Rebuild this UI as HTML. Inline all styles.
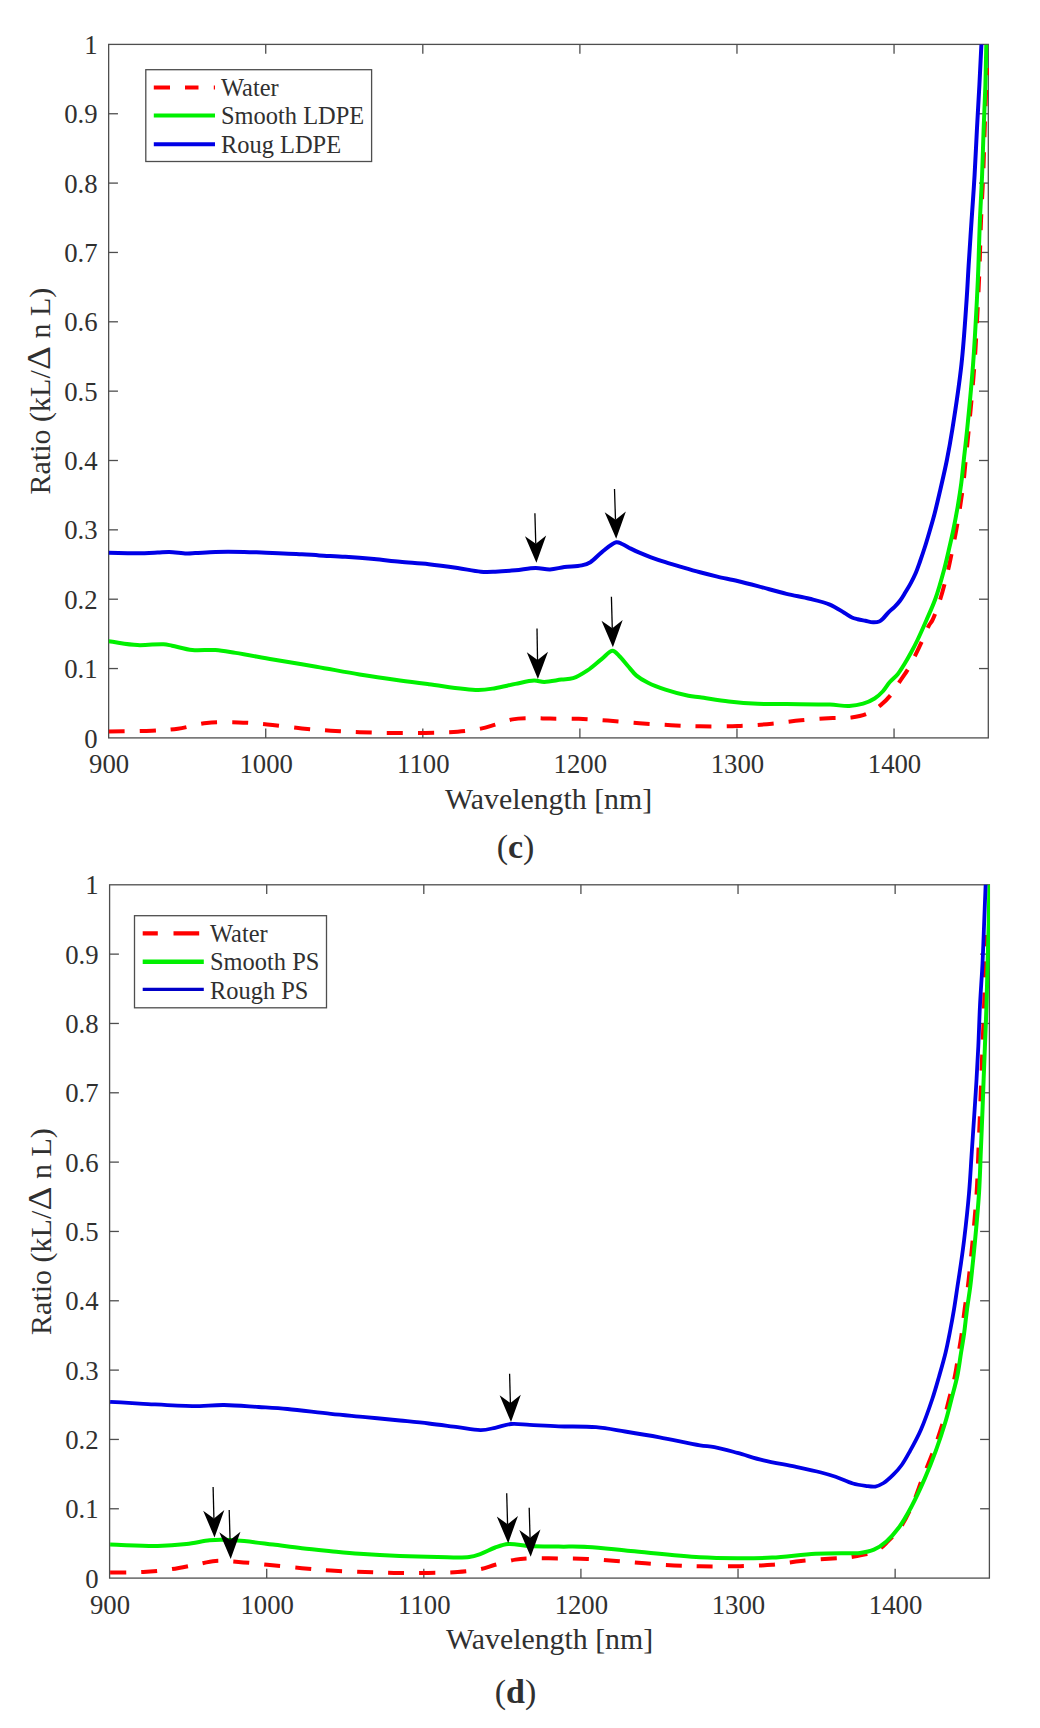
<!DOCTYPE html>
<html><head><meta charset="utf-8"><style>
html,body{margin:0;padding:0;background:#fff;}
svg{display:block;}
text{font-family:"Liberation Serif", serif;fill:#303030;}
</style></head><body>
<svg width="1040" height="1728" viewBox="0 0 1040 1728">
<rect width="1040" height="1728" fill="#fff"/>
<defs><clipPath id="cc"><rect x="108.65" y="44.40" width="880.25" height="693.50"/></clipPath>
<clipPath id="cd"><rect x="109.60" y="884.80" width="880.40" height="693.30"/></clipPath></defs>
<rect x="108.65" y="44.40" width="879.65" height="693.50" fill="none" stroke="#4e4e4e" stroke-width="1.3"/>
<text transform="translate(109.10,773.40) scale(0.9550,1)" font-size="28" text-anchor="middle">900</text>
<line x1="265.73" y1="737.90" x2="265.73" y2="728.60" stroke="#4e4e4e" stroke-width="1.3"/>
<line x1="265.73" y1="44.40" x2="265.73" y2="53.70" stroke="#4e4e4e" stroke-width="1.3"/>
<text transform="translate(266.18,773.40) scale(0.9550,1)" font-size="28" text-anchor="middle">1000</text>
<line x1="422.81" y1="737.90" x2="422.81" y2="728.60" stroke="#4e4e4e" stroke-width="1.3"/>
<line x1="422.81" y1="44.40" x2="422.81" y2="53.70" stroke="#4e4e4e" stroke-width="1.3"/>
<text transform="translate(423.26,773.40) scale(0.9550,1)" font-size="28" text-anchor="middle">1100</text>
<line x1="579.89" y1="737.90" x2="579.89" y2="728.60" stroke="#4e4e4e" stroke-width="1.3"/>
<line x1="579.89" y1="44.40" x2="579.89" y2="53.70" stroke="#4e4e4e" stroke-width="1.3"/>
<text transform="translate(580.34,773.40) scale(0.9550,1)" font-size="28" text-anchor="middle">1200</text>
<line x1="736.97" y1="737.90" x2="736.97" y2="728.60" stroke="#4e4e4e" stroke-width="1.3"/>
<line x1="736.97" y1="44.40" x2="736.97" y2="53.70" stroke="#4e4e4e" stroke-width="1.3"/>
<text transform="translate(737.42,773.40) scale(0.9550,1)" font-size="28" text-anchor="middle">1300</text>
<line x1="894.05" y1="737.90" x2="894.05" y2="728.60" stroke="#4e4e4e" stroke-width="1.3"/>
<line x1="894.05" y1="44.40" x2="894.05" y2="53.70" stroke="#4e4e4e" stroke-width="1.3"/>
<text transform="translate(894.50,773.40) scale(0.9550,1)" font-size="28" text-anchor="middle">1400</text>
<text transform="translate(97.65,747.50) scale(0.9550,1)" font-size="28" text-anchor="end">0</text>
<line x1="108.65" y1="668.55" x2="117.95" y2="668.55" stroke="#4e4e4e" stroke-width="1.3"/>
<line x1="988.30" y1="668.55" x2="979.00" y2="668.55" stroke="#4e4e4e" stroke-width="1.3"/>
<text transform="translate(97.65,678.15) scale(0.9550,1)" font-size="28" text-anchor="end">0.1</text>
<line x1="108.65" y1="599.20" x2="117.95" y2="599.20" stroke="#4e4e4e" stroke-width="1.3"/>
<line x1="988.30" y1="599.20" x2="979.00" y2="599.20" stroke="#4e4e4e" stroke-width="1.3"/>
<text transform="translate(97.65,608.80) scale(0.9550,1)" font-size="28" text-anchor="end">0.2</text>
<line x1="108.65" y1="529.85" x2="117.95" y2="529.85" stroke="#4e4e4e" stroke-width="1.3"/>
<line x1="988.30" y1="529.85" x2="979.00" y2="529.85" stroke="#4e4e4e" stroke-width="1.3"/>
<text transform="translate(97.65,539.45) scale(0.9550,1)" font-size="28" text-anchor="end">0.3</text>
<line x1="108.65" y1="460.50" x2="117.95" y2="460.50" stroke="#4e4e4e" stroke-width="1.3"/>
<line x1="988.30" y1="460.50" x2="979.00" y2="460.50" stroke="#4e4e4e" stroke-width="1.3"/>
<text transform="translate(97.65,470.10) scale(0.9550,1)" font-size="28" text-anchor="end">0.4</text>
<line x1="108.65" y1="391.15" x2="117.95" y2="391.15" stroke="#4e4e4e" stroke-width="1.3"/>
<line x1="988.30" y1="391.15" x2="979.00" y2="391.15" stroke="#4e4e4e" stroke-width="1.3"/>
<text transform="translate(97.65,400.75) scale(0.9550,1)" font-size="28" text-anchor="end">0.5</text>
<line x1="108.65" y1="321.80" x2="117.95" y2="321.80" stroke="#4e4e4e" stroke-width="1.3"/>
<line x1="988.30" y1="321.80" x2="979.00" y2="321.80" stroke="#4e4e4e" stroke-width="1.3"/>
<text transform="translate(97.65,331.40) scale(0.9550,1)" font-size="28" text-anchor="end">0.6</text>
<line x1="108.65" y1="252.45" x2="117.95" y2="252.45" stroke="#4e4e4e" stroke-width="1.3"/>
<line x1="988.30" y1="252.45" x2="979.00" y2="252.45" stroke="#4e4e4e" stroke-width="1.3"/>
<text transform="translate(97.65,262.05) scale(0.9550,1)" font-size="28" text-anchor="end">0.7</text>
<line x1="108.65" y1="183.10" x2="117.95" y2="183.10" stroke="#4e4e4e" stroke-width="1.3"/>
<line x1="988.30" y1="183.10" x2="979.00" y2="183.10" stroke="#4e4e4e" stroke-width="1.3"/>
<text transform="translate(97.65,192.70) scale(0.9550,1)" font-size="28" text-anchor="end">0.8</text>
<line x1="108.65" y1="113.75" x2="117.95" y2="113.75" stroke="#4e4e4e" stroke-width="1.3"/>
<line x1="988.30" y1="113.75" x2="979.00" y2="113.75" stroke="#4e4e4e" stroke-width="1.3"/>
<text transform="translate(97.65,123.35) scale(0.9550,1)" font-size="28" text-anchor="end">0.9</text>
<text transform="translate(97.65,54.00) scale(0.9550,1)" font-size="28" text-anchor="end">1</text>
<path d="M108.65,731.60 C123.07,731.30 139.32,731.31 151.90,730.70 C161.67,730.22 169.05,729.91 177.90,728.70 C187.29,727.41 196.81,724.06 206.70,723.00 C216.99,721.89 228.17,722.14 238.50,722.40 C248.34,722.65 257.27,723.47 267.30,724.40 C278.32,725.42 290.88,727.32 301.90,728.40 C311.96,729.38 321.17,730.07 330.80,730.70 C340.40,731.33 349.19,731.83 359.60,732.20 C371.93,732.64 385.34,733.01 400.00,733.00 C417.52,732.99 442.82,732.98 457.70,731.80 C467.16,731.05 474.05,730.00 480.80,728.60 C486.21,727.48 490.19,726.05 495.20,724.60 C500.71,723.01 506.44,720.47 512.50,719.40 C518.91,718.26 526.23,718.32 532.70,718.20 C538.69,718.09 543.50,718.50 550.00,718.60 C558.38,718.73 569.20,718.47 578.80,718.80 C588.43,719.13 597.85,719.89 607.70,720.60 C618.03,721.34 628.83,722.43 639.40,723.20 C649.96,723.97 660.77,724.68 671.10,725.20 C680.95,725.70 689.74,726.15 700.00,726.30 C711.69,726.48 725.26,726.46 737.50,726.00 C749.27,725.56 761.10,724.71 772.10,723.70 C782.18,722.77 791.13,721.24 801.00,720.30 C811.31,719.32 823.50,718.46 832.70,718.00 C839.78,717.65 845.62,718.26 851.50,717.50 C856.82,716.82 861.75,715.96 866.50,714.00 C871.40,711.98 876.27,708.67 880.40,705.40 C884.32,702.30 887.61,698.89 890.80,695.00 C894.18,690.87 897.03,685.66 900.00,681.20 C902.79,677.01 905.56,673.31 908.10,669.00 C910.78,664.47 913.25,659.33 915.60,654.60 C917.84,650.10 919.78,645.92 921.90,641.30 C924.18,636.34 926.72,629.66 928.80,625.80 C930.12,623.34 931.19,622.64 932.50,620.00 C934.90,615.18 938.04,606.23 940.50,598.50 C943.29,589.73 945.99,578.68 948.07,570.00 C949.80,562.77 950.96,556.67 952.33,550.00 C953.70,543.34 955.04,536.98 956.30,530.00 C957.68,522.38 959.04,513.92 960.24,506.00 C961.41,498.26 962.52,490.68 963.44,483.00 C964.35,475.34 964.89,468.36 965.72,460.00 C966.71,449.99 967.81,439.77 969.00,427.00 C970.65,409.37 972.99,385.09 974.50,364.00 C976.03,342.76 977.20,317.99 978.10,300.00 C978.75,286.89 979.12,278.19 979.57,266.00 C980.11,251.82 980.43,235.25 981.04,220.00 C981.64,204.92 982.60,190.00 983.20,175.00 C983.81,160.00 984.13,145.00 984.67,130.00 C985.21,115.00 985.68,96.41 986.43,85.00 C986.89,77.97 987.48,73.67 988.00,68.00" fill="none" stroke="#ff0000" stroke-width="4" stroke-linejoin="round" stroke-dasharray="16 15.05" clip-path="url(#cc)"/>
<path d="M108.65,641.30 C118.27,642.57 128.12,644.65 137.50,645.10 C146.37,645.53 157.19,643.76 163.50,644.20 C167.16,644.45 168.64,645.03 172.10,645.70 C177.42,646.73 185.30,649.26 192.30,650.00 C199.70,650.78 207.98,649.47 215.40,650.00 C222.38,650.50 227.85,651.66 235.60,652.90 C246.17,654.59 260.07,657.28 273.00,659.50 C286.90,661.88 301.88,664.20 316.30,666.70 C330.74,669.20 345.40,672.17 359.60,674.50 C373.28,676.75 387.66,678.79 400.00,680.50 C410.40,681.94 417.92,682.86 428.80,684.20 C442.99,685.95 465.70,689.92 477.90,690.00 C485.13,690.05 489.24,689.14 495.20,688.20 C501.70,687.17 508.79,685.20 515.40,683.90 C521.74,682.65 528.81,680.61 534.10,680.50 C537.97,680.42 540.38,681.89 544.20,681.90 C549.19,681.91 556.31,680.26 561.50,679.60 C565.75,679.06 569.15,679.46 573.10,678.20 C577.78,676.71 582.84,673.50 587.50,670.40 C592.45,667.10 597.43,662.27 601.90,658.80 C605.70,655.85 609.48,650.76 612.60,650.80 C615.08,650.83 616.95,653.86 619.20,656.00 C622.02,658.69 625.00,662.71 627.90,666.00 C630.76,669.24 633.20,672.82 636.50,675.60 C639.88,678.45 643.66,680.60 648.00,682.80 C653.10,685.38 659.13,687.63 665.40,689.70 C672.47,692.03 682.00,694.54 688.40,695.80 C692.89,696.68 695.27,696.65 700.00,697.30 C707.46,698.33 719.17,700.42 728.80,701.50 C738.41,702.58 748.07,703.37 757.70,703.80 C767.30,704.23 775.92,703.98 786.50,704.10 C799.47,704.24 818.23,704.12 829.80,704.60 C837.55,704.92 843.29,706.27 849.20,706.00 C854.23,705.77 858.77,705.01 863.10,703.70 C867.20,702.46 871.24,700.65 874.60,698.50 C877.70,696.52 880.24,694.14 882.70,691.50 C885.25,688.76 887.10,685.19 889.60,682.30 C892.10,679.42 895.24,677.20 897.70,674.20 C900.26,671.06 902.38,667.39 904.60,663.80 C906.89,660.10 909.07,656.22 911.20,652.30 C913.37,648.29 915.28,644.63 917.50,640.00 C920.30,634.17 923.54,626.81 926.50,620.00 C929.55,612.98 932.73,606.25 935.50,598.50 C938.63,589.75 941.66,578.69 944.00,570.00 C945.94,562.77 947.25,556.67 948.80,550.00 C950.35,543.34 951.86,536.98 953.30,530.00 C954.87,522.38 956.45,513.93 957.80,506.00 C959.11,498.26 960.30,490.68 961.30,483.00 C962.30,475.34 962.89,468.36 963.80,460.00 C964.89,449.99 966.13,439.77 967.40,427.00 C969.16,409.37 971.52,385.09 973.10,364.00 C974.69,342.76 975.97,317.99 976.90,300.00 C977.58,286.89 977.93,278.19 978.40,266.00 C978.94,251.82 979.28,235.25 979.90,220.00 C980.51,204.92 981.48,190.00 982.10,175.00 C982.72,160.00 983.05,145.00 983.60,130.00 C984.15,115.00 984.95,99.61 985.40,85.00 C985.83,71.15 986.00,58.00 986.30,44.50" fill="none" stroke="#00f000" stroke-width="4" stroke-linejoin="round" clip-path="url(#cc)"/>
<path d="M108.65,552.80 C118.10,552.93 128.29,553.29 137.00,553.20 C144.44,553.13 151.81,552.75 157.70,552.50 C162.09,552.31 164.98,551.83 169.20,551.90 C174.38,551.99 181.71,553.28 186.50,553.40 C189.89,553.49 191.70,553.26 195.20,553.10 C200.54,552.85 208.07,552.12 215.40,551.90 C224.15,551.64 235.82,551.75 244.20,551.90 C250.70,552.01 254.53,552.23 261.50,552.50 C272.15,552.91 291.25,553.61 301.90,554.20 C308.87,554.59 312.85,555.01 319.20,555.40 C326.99,555.88 336.32,556.21 345.20,556.80 C354.56,557.43 364.65,558.24 374.00,559.10 C382.89,559.92 391.11,560.97 400.00,561.80 C409.35,562.67 419.20,563.17 428.80,564.20 C438.44,565.23 448.61,566.68 457.70,568.00 C465.84,569.19 473.99,571.16 480.80,571.70 C486.15,572.13 490.00,571.88 495.20,571.70 C501.37,571.49 508.67,570.92 515.40,570.30 C522.14,569.68 529.43,568.05 535.60,568.00 C540.80,567.96 545.21,569.55 550.00,569.40 C554.81,569.25 559.37,567.75 564.40,567.10 C569.89,566.39 576.97,566.48 581.70,565.40 C585.15,564.61 587.46,563.95 590.40,562.20 C594.17,559.96 597.74,555.32 601.90,552.10 C606.33,548.67 612.46,542.91 616.30,542.30 C618.56,541.94 620.02,543.15 622.10,544.00 C624.76,545.08 627.89,547.14 630.80,548.60 C633.66,550.04 636.29,551.35 639.40,552.70 C642.95,554.25 646.90,555.79 651.00,557.30 C655.52,558.96 660.36,560.59 665.40,562.20 C670.89,563.96 676.93,565.71 682.70,567.40 C688.46,569.08 694.22,570.76 700.00,572.30 C705.75,573.83 711.30,575.20 717.30,576.60 C723.76,578.11 730.78,579.42 737.50,581.00 C744.25,582.59 750.38,584.18 757.70,586.10 C766.46,588.39 777.40,591.70 786.50,593.90 C794.60,595.85 802.19,596.95 809.60,598.80 C816.59,600.54 823.77,602.08 829.80,604.60 C835.15,606.84 840.15,610.32 844.20,612.70 C847.22,614.48 849.53,616.40 852.00,617.50 C853.99,618.39 855.65,618.68 857.70,619.20 C860.06,619.80 862.83,620.28 865.40,620.80 C867.97,621.32 870.68,622.22 873.10,622.30 C875.25,622.37 877.47,622.22 879.20,621.50 C880.74,620.86 881.76,619.76 883.10,618.50 C884.83,616.87 886.58,614.24 888.50,612.30 C890.41,610.37 892.68,608.82 894.60,606.90 C896.52,604.98 898.29,603.08 900.00,600.80 C901.91,598.27 903.63,595.21 905.40,592.30 C907.23,589.31 909.12,586.21 910.80,583.10 C912.45,580.04 913.95,577.16 915.40,573.80 C917.03,570.02 918.46,565.85 920.00,561.50 C921.72,556.65 923.57,551.14 925.20,546.00 C926.80,540.97 928.20,536.16 929.70,531.00 C931.30,525.52 932.89,520.16 934.50,514.00 C936.39,506.75 938.26,498.61 940.20,490.20 C942.38,480.74 944.87,470.15 946.90,460.00 C948.94,449.76 950.46,441.25 952.40,429.00 C955.21,411.32 959.13,385.62 961.50,364.00 C963.85,342.62 965.35,317.99 966.60,300.00 C967.51,286.89 967.84,278.19 968.60,266.00 C969.48,251.82 970.59,235.25 971.60,220.00 C972.59,204.92 973.72,190.00 974.60,175.00 C975.48,160.00 976.10,145.00 976.90,130.00 C977.70,115.00 978.63,99.61 979.40,85.00 C980.13,71.15 981.13,48.17 981.40,44.50 C981.44,43.92 981.47,43.83 981.50,43.50" fill="none" stroke="#0000e6" stroke-width="4" stroke-linejoin="round" clip-path="url(#cc)"/>
<line x1="534.90" y1="513.20" x2="535.77" y2="543.81" stroke="#000" stroke-width="1.3"/><path d="M536.40,562.80 L524.99,536.13 L535.83,543.81 L546.18,535.49 Z" fill="#000"/>
<line x1="614.50" y1="489.10" x2="615.48" y2="519.81" stroke="#000" stroke-width="1.3"/><path d="M616.20,538.80 L604.68,512.18 L615.55,519.81 L625.87,511.45 Z" fill="#000"/>
<line x1="537.00" y1="628.50" x2="537.53" y2="660.00" stroke="#000" stroke-width="1.3"/><path d="M537.90,679.00 L526.82,652.19 L537.56,660.00 L548.02,651.82 Z" fill="#000"/>
<line x1="611.40" y1="596.80" x2="612.28" y2="628.31" stroke="#000" stroke-width="1.3"/><path d="M612.90,647.30 L601.50,620.63 L612.34,628.31 L622.69,620.00 Z" fill="#000"/>
<rect x="145.8" y="69.7" width="225.8" height="91.8" fill="#fff" stroke="#4e4e4e" stroke-width="1.3"/>
<line x1="153.8" y1="87.5" x2="215" y2="87.5" stroke="#ff0000" stroke-width="4.2" stroke-dasharray="16.2 15 13.5 15.3 1.2 100"/>
<line x1="153.8" y1="115.4" x2="215" y2="115.4" stroke="#00f000" stroke-width="4"/>
<line x1="153.8" y1="144.2" x2="215" y2="144.2" stroke="#0000e6" stroke-width="4"/>
<text transform="translate(221.00,96.20) scale(1.0100,1)" font-size="24.2" text-anchor="start">Water</text>
<text transform="translate(221.00,124.40) scale(1.0100,1)" font-size="24.2" text-anchor="start">Smooth LDPE</text>
<text transform="translate(221.00,152.80) scale(1.0100,1)" font-size="24.2" text-anchor="start">Roug LDPE</text>
<text transform="translate(445.00,808.80) scale(0.9950,1)" font-size="30" text-anchor="start">Wavelength [nm]</text>
<g transform="translate(49.80,0.00) rotate(-90)"><text x="-494.40" y="0" font-size="30">Ratio (kL/</text><text transform="translate(-370.10,0) scale(1.13,1)" font-size="33">&#916;</text><text x="-338.60" y="0" font-size="30">n L)</text></g>
<text x="515.5" y="858" text-anchor="middle" font-size="34">(<tspan font-weight="bold">c</tspan>)</text>
<rect x="109.60" y="884.80" width="879.80" height="693.30" fill="none" stroke="#4e4e4e" stroke-width="1.3"/>
<text transform="translate(110.05,1613.60) scale(0.9550,1)" font-size="28" text-anchor="middle">900</text>
<line x1="266.71" y1="1578.10" x2="266.71" y2="1568.80" stroke="#4e4e4e" stroke-width="1.3"/>
<line x1="266.71" y1="884.80" x2="266.71" y2="894.10" stroke="#4e4e4e" stroke-width="1.3"/>
<text transform="translate(267.16,1613.60) scale(0.9550,1)" font-size="28" text-anchor="middle">1000</text>
<line x1="423.81" y1="1578.10" x2="423.81" y2="1568.80" stroke="#4e4e4e" stroke-width="1.3"/>
<line x1="423.81" y1="884.80" x2="423.81" y2="894.10" stroke="#4e4e4e" stroke-width="1.3"/>
<text transform="translate(424.26,1613.60) scale(0.9550,1)" font-size="28" text-anchor="middle">1100</text>
<line x1="580.92" y1="1578.10" x2="580.92" y2="1568.80" stroke="#4e4e4e" stroke-width="1.3"/>
<line x1="580.92" y1="884.80" x2="580.92" y2="894.10" stroke="#4e4e4e" stroke-width="1.3"/>
<text transform="translate(581.37,1613.60) scale(0.9550,1)" font-size="28" text-anchor="middle">1200</text>
<line x1="738.03" y1="1578.10" x2="738.03" y2="1568.80" stroke="#4e4e4e" stroke-width="1.3"/>
<line x1="738.03" y1="884.80" x2="738.03" y2="894.10" stroke="#4e4e4e" stroke-width="1.3"/>
<text transform="translate(738.48,1613.60) scale(0.9550,1)" font-size="28" text-anchor="middle">1300</text>
<line x1="895.14" y1="1578.10" x2="895.14" y2="1568.80" stroke="#4e4e4e" stroke-width="1.3"/>
<line x1="895.14" y1="884.80" x2="895.14" y2="894.10" stroke="#4e4e4e" stroke-width="1.3"/>
<text transform="translate(895.59,1613.60) scale(0.9550,1)" font-size="28" text-anchor="middle">1400</text>
<text transform="translate(98.60,1587.70) scale(0.9550,1)" font-size="28" text-anchor="end">0</text>
<line x1="109.60" y1="1508.77" x2="118.90" y2="1508.77" stroke="#4e4e4e" stroke-width="1.3"/>
<line x1="989.40" y1="1508.77" x2="980.10" y2="1508.77" stroke="#4e4e4e" stroke-width="1.3"/>
<text transform="translate(98.60,1518.37) scale(0.9550,1)" font-size="28" text-anchor="end">0.1</text>
<line x1="109.60" y1="1439.44" x2="118.90" y2="1439.44" stroke="#4e4e4e" stroke-width="1.3"/>
<line x1="989.40" y1="1439.44" x2="980.10" y2="1439.44" stroke="#4e4e4e" stroke-width="1.3"/>
<text transform="translate(98.60,1449.04) scale(0.9550,1)" font-size="28" text-anchor="end">0.2</text>
<line x1="109.60" y1="1370.11" x2="118.90" y2="1370.11" stroke="#4e4e4e" stroke-width="1.3"/>
<line x1="989.40" y1="1370.11" x2="980.10" y2="1370.11" stroke="#4e4e4e" stroke-width="1.3"/>
<text transform="translate(98.60,1379.71) scale(0.9550,1)" font-size="28" text-anchor="end">0.3</text>
<line x1="109.60" y1="1300.78" x2="118.90" y2="1300.78" stroke="#4e4e4e" stroke-width="1.3"/>
<line x1="989.40" y1="1300.78" x2="980.10" y2="1300.78" stroke="#4e4e4e" stroke-width="1.3"/>
<text transform="translate(98.60,1310.38) scale(0.9550,1)" font-size="28" text-anchor="end">0.4</text>
<line x1="109.60" y1="1231.45" x2="118.90" y2="1231.45" stroke="#4e4e4e" stroke-width="1.3"/>
<line x1="989.40" y1="1231.45" x2="980.10" y2="1231.45" stroke="#4e4e4e" stroke-width="1.3"/>
<text transform="translate(98.60,1241.05) scale(0.9550,1)" font-size="28" text-anchor="end">0.5</text>
<line x1="109.60" y1="1162.12" x2="118.90" y2="1162.12" stroke="#4e4e4e" stroke-width="1.3"/>
<line x1="989.40" y1="1162.12" x2="980.10" y2="1162.12" stroke="#4e4e4e" stroke-width="1.3"/>
<text transform="translate(98.60,1171.72) scale(0.9550,1)" font-size="28" text-anchor="end">0.6</text>
<line x1="109.60" y1="1092.79" x2="118.90" y2="1092.79" stroke="#4e4e4e" stroke-width="1.3"/>
<line x1="989.40" y1="1092.79" x2="980.10" y2="1092.79" stroke="#4e4e4e" stroke-width="1.3"/>
<text transform="translate(98.60,1102.39) scale(0.9550,1)" font-size="28" text-anchor="end">0.7</text>
<line x1="109.60" y1="1023.46" x2="118.90" y2="1023.46" stroke="#4e4e4e" stroke-width="1.3"/>
<line x1="989.40" y1="1023.46" x2="980.10" y2="1023.46" stroke="#4e4e4e" stroke-width="1.3"/>
<text transform="translate(98.60,1033.06) scale(0.9550,1)" font-size="28" text-anchor="end">0.8</text>
<line x1="109.60" y1="954.13" x2="118.90" y2="954.13" stroke="#4e4e4e" stroke-width="1.3"/>
<line x1="989.40" y1="954.13" x2="980.10" y2="954.13" stroke="#4e4e4e" stroke-width="1.3"/>
<text transform="translate(98.60,963.73) scale(0.9550,1)" font-size="28" text-anchor="end">0.9</text>
<text transform="translate(98.60,894.40) scale(0.9550,1)" font-size="28" text-anchor="end">1</text>
<path d="M110.10,1572.60 C121.17,1572.40 132.64,1572.63 143.30,1572.00 C153.25,1571.41 163.05,1570.40 172.10,1569.10 C180.25,1567.93 187.76,1566.19 195.20,1564.80 C202.16,1563.50 208.41,1561.51 215.40,1561.00 C222.81,1560.45 230.39,1561.33 238.50,1561.90 C247.58,1562.53 257.26,1563.80 267.30,1564.80 C278.30,1565.89 290.88,1567.20 301.90,1568.20 C311.96,1569.11 320.19,1569.95 330.80,1570.60 C343.75,1571.39 361.42,1571.88 374.00,1572.30 C383.76,1572.62 389.63,1572.95 400.00,1573.00 C415.45,1573.07 442.82,1573.06 457.70,1572.00 C467.15,1571.33 474.06,1570.52 480.80,1569.10 C486.22,1567.96 489.98,1566.25 495.20,1564.80 C501.35,1563.09 509.19,1560.65 515.40,1559.60 C520.57,1558.73 524.17,1558.63 529.80,1558.40 C537.75,1558.07 548.99,1558.30 558.60,1558.40 C568.23,1558.50 577.88,1558.57 587.50,1559.00 C597.11,1559.43 606.69,1560.28 616.30,1561.00 C625.93,1561.72 635.57,1562.57 645.20,1563.30 C654.81,1564.03 664.64,1564.90 674.00,1565.40 C682.88,1565.88 690.54,1566.15 700.00,1566.30 C711.36,1566.48 725.25,1566.46 737.50,1566.20 C749.27,1565.95 761.11,1565.74 772.10,1564.80 C782.19,1563.93 791.13,1562.05 801.00,1561.00 C811.31,1559.90 823.72,1559.05 832.70,1558.40 C839.33,1557.92 844.54,1557.99 850.00,1557.30 C854.99,1556.67 859.70,1555.62 864.20,1554.60 C868.33,1553.67 872.27,1553.45 876.00,1551.50 C880.22,1549.30 884.01,1545.18 887.90,1541.40 C892.16,1537.26 896.63,1532.86 900.40,1527.50 C904.64,1521.48 908.15,1514.26 911.60,1506.70 C915.48,1498.22 918.59,1488.15 922.20,1478.90 C925.82,1469.62 929.85,1460.52 933.30,1451.10 C936.79,1441.56 940.26,1431.17 943.00,1422.00 C945.41,1413.92 947.12,1406.67 949.10,1399.00 C951.08,1391.34 953.31,1383.70 954.90,1376.00 C956.47,1368.37 957.44,1360.20 958.60,1353.00 C959.63,1346.63 960.58,1341.54 961.50,1335.00 C962.60,1327.23 963.50,1317.71 964.60,1309.40 C965.64,1301.50 966.93,1294.02 967.90,1286.30 C968.87,1278.58 969.60,1270.83 970.40,1263.10 C971.20,1255.39 971.87,1249.05 972.70,1240.00 C973.88,1227.15 975.64,1208.43 976.60,1193.30 C977.50,1179.04 977.82,1165.58 978.40,1151.70 C978.98,1137.81 979.61,1122.76 980.10,1110.00 C980.52,1099.18 980.81,1090.26 981.20,1080.00 C981.61,1069.19 982.05,1058.42 982.50,1046.70 C983.01,1033.58 983.65,1018.90 984.10,1005.00 C984.55,991.10 984.86,975.86 985.20,963.30 C985.48,952.96 985.73,944.43 986.00,935.00" fill="none" stroke="#ff0000" stroke-width="4" stroke-linejoin="round" stroke-dasharray="16 15.05" clip-path="url(#cd)"/>
<path d="M110.10,1544.60 C125.97,1545.07 143.82,1546.28 157.70,1546.00 C168.51,1545.78 177.45,1545.04 186.50,1544.00 C194.65,1543.07 203.21,1540.98 209.60,1540.30 C214.08,1539.83 216.61,1539.68 221.10,1539.70 C227.47,1539.73 236.09,1540.36 244.20,1541.10 C253.28,1541.93 263.39,1543.40 273.00,1544.60 C282.63,1545.80 292.26,1547.20 301.90,1548.30 C311.53,1549.40 321.17,1550.28 330.80,1551.20 C340.41,1552.12 349.18,1553.03 359.60,1553.80 C371.92,1554.71 386.78,1555.57 400.00,1556.10 C412.73,1556.61 425.52,1556.86 437.50,1557.00 C448.51,1557.13 461.29,1558.07 469.20,1557.00 C474.07,1556.34 476.78,1555.23 480.80,1553.80 C485.40,1552.17 490.46,1549.16 495.20,1547.50 C499.59,1545.96 503.28,1544.42 508.20,1544.00 C514.45,1543.47 522.07,1545.56 529.80,1546.00 C538.70,1546.50 548.99,1546.45 558.60,1546.60 C568.22,1546.75 576.91,1546.34 587.50,1546.90 C600.49,1547.58 614.68,1549.50 630.80,1551.00 C651.17,1552.89 680.42,1556.18 700.00,1557.30 C714.38,1558.13 725.25,1558.16 737.50,1558.20 C749.26,1558.24 759.93,1558.24 772.10,1557.60 C785.74,1556.88 801.76,1554.52 815.40,1553.80 C827.57,1553.16 841.94,1553.35 850.00,1553.20 C854.34,1553.12 856.42,1553.46 860.00,1553.00 C864.28,1552.46 869.55,1551.59 873.90,1549.70 C878.36,1547.76 882.44,1544.82 886.40,1541.40 C890.82,1537.58 894.97,1532.81 898.90,1527.50 C903.38,1521.45 907.36,1514.24 911.40,1506.70 C915.95,1498.21 920.53,1488.23 924.60,1478.90 C928.62,1469.70 932.25,1460.52 935.70,1451.10 C939.19,1441.56 942.66,1431.17 945.40,1422.00 C947.81,1413.92 949.52,1406.67 951.50,1399.00 C953.48,1391.34 955.71,1383.70 957.30,1376.00 C958.87,1368.37 959.84,1360.20 961.00,1353.00 C962.03,1346.63 962.98,1341.54 963.90,1335.00 C965.00,1327.23 965.90,1317.71 967.00,1309.40 C968.04,1301.50 969.33,1294.02 970.30,1286.30 C971.27,1278.58 972.00,1270.83 972.80,1263.10 C973.60,1255.39 974.27,1249.05 975.10,1240.00 C976.28,1227.15 978.04,1208.43 979.00,1193.30 C979.90,1179.04 980.22,1165.58 980.80,1151.70 C981.38,1137.81 982.01,1122.76 982.50,1110.00 C982.92,1099.18 983.21,1090.26 983.60,1080.00 C984.01,1069.19 984.45,1058.42 984.90,1046.70 C985.41,1033.58 986.05,1018.90 986.50,1005.00 C986.95,991.10 987.22,977.19 987.60,963.30 C987.97,949.42 988.44,935.08 988.75,921.70 C989.03,909.24 989.23,889.78 989.40,885.60 C989.44,884.72 989.47,884.53 989.50,884.00" fill="none" stroke="#00f000" stroke-width="4" stroke-linejoin="round" clip-path="url(#cd)"/>
<path d="M110.10,1401.80 C121.17,1402.47 131.16,1403.15 143.30,1403.80 C158.05,1404.59 177.74,1406.01 192.30,1406.10 C204.01,1406.17 213.21,1404.88 224.00,1405.00 C235.28,1405.13 247.59,1406.30 258.60,1407.00 C268.67,1407.64 276.91,1408.03 287.50,1409.00 C300.49,1410.18 317.17,1412.50 330.80,1413.90 C342.97,1415.15 353.87,1416.00 365.40,1417.10 C376.93,1418.20 389.00,1419.39 400.00,1420.50 C410.04,1421.52 419.20,1422.39 428.80,1423.50 C438.43,1424.62 448.60,1426.05 457.70,1427.20 C465.83,1428.23 474.01,1430.21 480.80,1430.10 C486.17,1430.01 490.31,1428.78 495.20,1427.80 C500.36,1426.77 505.47,1424.52 511.00,1424.00 C516.96,1423.44 522.87,1424.57 529.80,1424.90 C538.38,1425.31 548.36,1425.93 558.60,1426.30 C570.27,1426.72 584.44,1426.20 596.10,1427.20 C606.39,1428.09 614.94,1429.91 625.00,1431.50 C636.02,1433.24 647.64,1435.10 659.60,1437.30 C672.56,1439.69 689.91,1443.80 700.00,1445.40 C705.99,1446.35 709.07,1446.12 714.40,1447.10 C721.23,1448.36 729.59,1450.77 737.50,1452.90 C745.93,1455.17 754.35,1458.18 763.50,1460.40 C773.49,1462.83 785.18,1464.58 795.20,1466.70 C804.28,1468.62 813.74,1470.59 821.10,1472.50 C826.66,1473.94 830.59,1475.09 835.60,1476.80 C841.15,1478.69 847.51,1481.98 852.90,1483.50 C857.40,1484.77 861.64,1485.30 865.60,1485.80 C869.04,1486.23 872.25,1487.00 875.30,1486.50 C878.24,1486.02 880.86,1484.70 883.60,1483.00 C886.87,1480.98 890.29,1477.70 893.30,1474.70 C896.32,1471.70 899.06,1468.65 901.70,1465.00 C904.67,1460.90 907.14,1456.27 910.00,1451.10 C913.46,1444.85 917.36,1437.82 920.80,1430.00 C924.86,1420.76 929.08,1408.61 932.30,1399.00 C935.04,1390.81 937.00,1383.68 939.20,1376.00 C941.40,1368.35 943.68,1360.52 945.50,1353.00 C947.22,1345.87 948.50,1339.14 949.90,1332.00 C951.34,1324.61 952.74,1316.98 954.00,1309.40 C955.27,1301.75 956.33,1294.01 957.50,1286.30 C958.67,1278.58 959.90,1270.83 961.00,1263.10 C962.10,1255.40 963.02,1249.05 964.10,1240.00 C965.64,1227.15 967.70,1208.43 969.00,1193.30 C970.23,1179.04 970.87,1165.58 971.80,1151.70 C972.73,1137.81 973.77,1122.76 974.60,1110.00 C975.31,1099.18 975.90,1090.26 976.50,1080.00 C977.13,1069.19 977.74,1058.43 978.30,1046.70 C978.92,1033.58 979.30,1018.90 980.00,1005.00 C980.70,991.10 981.80,977.19 982.50,963.30 C983.20,949.43 983.67,935.08 984.20,921.70 C984.70,909.24 985.39,889.79 985.60,885.60 C985.64,884.72 985.67,884.53 985.70,884.00" fill="none" stroke="#0000e6" stroke-width="3.8" stroke-linejoin="round" clip-path="url(#cd)"/>
<line x1="213.10" y1="1486.90" x2="213.92" y2="1518.41" stroke="#000" stroke-width="1.3"/><path d="M214.50,1537.40 L203.16,1510.70 L213.97,1518.41 L224.35,1510.12 Z" fill="#000"/>
<line x1="229.20" y1="1510.00" x2="230.06" y2="1540.01" stroke="#000" stroke-width="1.3"/><path d="M230.70,1559.00 L219.28,1532.34 L230.12,1540.01 L240.47,1531.69 Z" fill="#000"/>
<line x1="509.60" y1="1373.80" x2="510.39" y2="1403.01" stroke="#000" stroke-width="1.3"/><path d="M511.00,1422.00 L499.62,1395.32 L510.45,1403.01 L520.81,1394.70 Z" fill="#000"/>
<line x1="506.70" y1="1493.30" x2="507.57" y2="1524.21" stroke="#000" stroke-width="1.3"/><path d="M508.20,1543.20 L496.79,1516.53 L507.63,1524.21 L517.98,1515.89 Z" fill="#000"/>
<line x1="529.20" y1="1507.70" x2="530.06" y2="1537.71" stroke="#000" stroke-width="1.3"/><path d="M530.70,1556.70 L519.28,1530.04 L530.12,1537.71 L540.47,1529.39 Z" fill="#000"/>
<rect x="134.5" y="915.7" width="192" height="92.1" fill="#fff" stroke="#4e4e4e" stroke-width="1.3"/>
<line x1="142.7" y1="933.4" x2="203.8" y2="933.4" stroke="#ff0000" stroke-width="4.2" stroke-dasharray="15.1 15.7 25.7 100"/>
<line x1="142.7" y1="961.7" x2="203.8" y2="961.7" stroke="#00f000" stroke-width="4.4"/>
<line x1="142.7" y1="989.4" x2="203.8" y2="989.4" stroke="#0000c8" stroke-width="3.1"/>
<text transform="translate(210.00,942.20) scale(1.0100,1)" font-size="24.2" text-anchor="start">Water</text>
<text transform="translate(210.00,970.40) scale(1.0100,1)" font-size="24.2" text-anchor="start">Smooth PS</text>
<text transform="translate(210.00,998.80) scale(1.0100,1)" font-size="24.2" text-anchor="start">Rough PS</text>
<text transform="translate(446.00,1648.80) scale(0.9950,1)" font-size="30" text-anchor="start">Wavelength [nm]</text>
<g transform="translate(50.60,840.50) rotate(-90)"><text x="-494.40" y="0" font-size="30">Ratio (kL/</text><text transform="translate(-370.10,0) scale(1.13,1)" font-size="33">&#916;</text><text x="-338.60" y="0" font-size="30">n L)</text></g>
<text x="515.5" y="1703" text-anchor="middle" font-size="34">(<tspan font-weight="bold">d</tspan>)</text>
</svg>
</body></html>
